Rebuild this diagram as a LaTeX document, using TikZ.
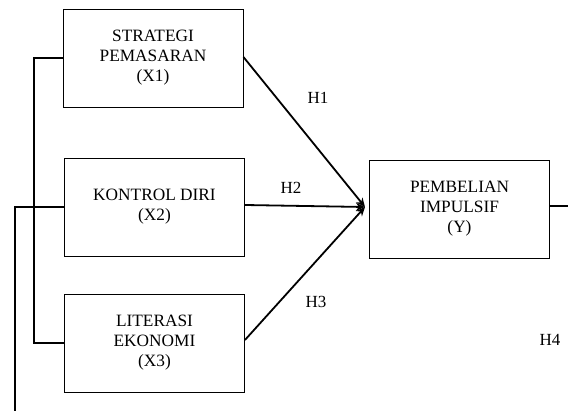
\documentclass[tikz,border=0pt]{standalone}
\usepackage{fontspec}
\setmainfont{Liberation Serif}
\usetikzlibrary{arrows.meta}
\begin{document}
\begin{tikzpicture}[x=1pt,y=-1pt,
  varbox/.style={draw, line width=0.9pt, minimum width=180pt, minimum height=98pt,
    align=center, font=\fontsize{17.3}{20}\selectfont, inner sep=0pt},
  conn/.style={line width=1.8pt},
  arr/.style={line width=1.8pt, -{Stealth[length=9pt,width=8pt]}},
  lab/.style={font=\fontsize{17}{20}\selectfont, inner sep=0pt}]
\useasboundingbox (0,0) rectangle (568,411);
\node[varbox] (x1) at (153,58) {STRATEGI\\PEMASARAN\\(X1)};
\node[varbox] (x2) at (154.5,207) {KONTROL DIRI\\(X2)};
\node[varbox] (x3) at (154.5,343) {LITERASI\\EKONOMI\\(X3)};
\node[varbox] (y) at (459.5,209) {PEMBELIAN\\IMPULSIF\\(Y)};
\coordinate (tip) at (365,207);
\coordinate (yr) at (568,206);
\coordinate (bl) at (15,411);
\coordinate (c2) at (15,207);
\draw[arr] (x1.east |- 0,57) -- (tip);
\draw[arr] (x2.east |- 0,205) -- (tip);
\draw[arr] (x3.east |- 0,340) -- (tip);
\draw[conn] (x1.west) -| (34,343) -- (x3.west);
\draw[conn] (x2.west) -- (c2) -- (bl);
\draw[conn] (y.east |- yr) -- (yr);
\node[lab] (h1) at (318,98) {H1};
\node[lab] (h2) at (291,188) {H2};
\node[lab] (h3) at (316,302) {H3};
\node[lab] (h4) at (550,340) {H4};
\end{tikzpicture}
\end{document}
